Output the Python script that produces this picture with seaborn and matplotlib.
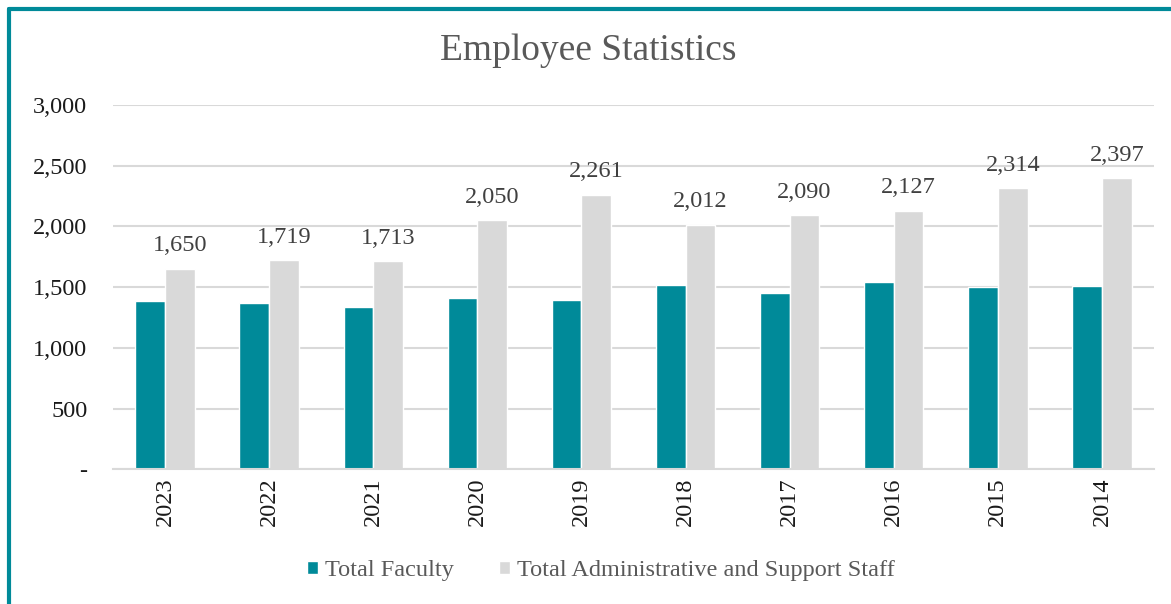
import pandas as pd
import matplotlib.pyplot as plt
import seaborn as sns
from matplotlib.lines import Line2D

# Values
years = ['2023', '2022', '2021', '2020', '2019', '2018', '2017', '2016', '2015', '2014']
faculty = [1387, 1365, 1332, 1409, 1393, 1516, 1450, 1538, 1497, 1505]
admin_staff = [1650, 1719, 1713, 2050, 2261, 2012, 2090, 2127, 2314, 2397]
series_names = ['Total Faculty', 'Total Administrative and Support Staff']
y_ticks = [0, 500, 1000, 1500, 2000, 2500, 3000]
y_tick_labels = ['-', '500', '1,000', '1,500', '2,000', '2,500', '3,000']

df = pd.DataFrame({
    'year': years * 2,
    'count': faculty + admin_staff,
    'series': [series_names[0]] * len(years) + [series_names[1]] * len(years),
})

sns.set_style('white')
plt.rcParams['font.family'] = ['Liberation Serif', 'DejaVu Serif']
fs = 17.5

fig = plt.figure(figsize=(11.71, 6.04), dpi=100)
ax = fig.add_axes([0.0965, 0.223, 0.889, 0.6035])

sns.barplot(data=df, x='year', y='count', hue='series', order=years,
            hue_order=series_names, palette=['#008A99', '#D9D9D9'],
            width=0.57, gap=0, saturation=1, errorbar=None, ax=ax, legend=True)

ax.set_ylim(0, 3000)
ax.set_yticks(y_ticks)
ax.set_yticklabels(y_tick_labels, fontsize=fs, color='#1a1a1a')
ax.tick_params(axis='y', length=0, pad=18.5)
ax.tick_params(axis='x', length=0, pad=6, labelsize=fs, labelcolor='#1a1a1a')
plt.setp(ax.get_xticklabels(), rotation=90)
ax.set_xlabel('')
ax.set_ylabel('')
ax.set_xlim(-0.5, len(years) - 0.5)
ax.yaxis.grid(True, color='#D9D9D9', linewidth=1.5)
ax.set_axisbelow(True)
for s in ['top', 'right', 'left']:
    ax.spines[s].set_visible(False)
ax.spines['bottom'].set_color('#D9D9D9')
ax.spines['bottom'].set_linewidth(1.5)

# Labels above the administrative staff bars
for bar, val in zip(ax.containers[1], admin_staff):
    ax.annotate(f'{val:,}', (bar.get_x() + bar.get_width() / 2, bar.get_height()),
                xytext=(0, 9), textcoords='offset points', ha='center', va='bottom',
                fontsize=fs, color='#404040')

handles, labels = ax.get_legend_handles_labels()
ax.get_legend().remove()
fig.legend(handles, labels, loc='center', bbox_to_anchor=(0.513, 0.055), ncol=2,
           frameon=False, fontsize=fs, labelcolor='#595959', handlelength=0.45,
           handleheight=0.45, handletextpad=0.3, columnspacing=1.85)

fig.suptitle('Employee Statistics', x=0.502, y=0.945, fontsize=27, color='#595959')

# Teal frame around the chart (left and top edges visible)
fig.add_artist(Line2D([0.0077, 0.0077], [0, 0.985], transform=fig.transFigure,
                      color='#008A99', linewidth=3))
fig.add_artist(Line2D([0.0077, 1.0], [0.985, 0.985], transform=fig.transFigure,
                      color='#008A99', linewidth=3))

fig.savefig('out.png', dpi=100)
